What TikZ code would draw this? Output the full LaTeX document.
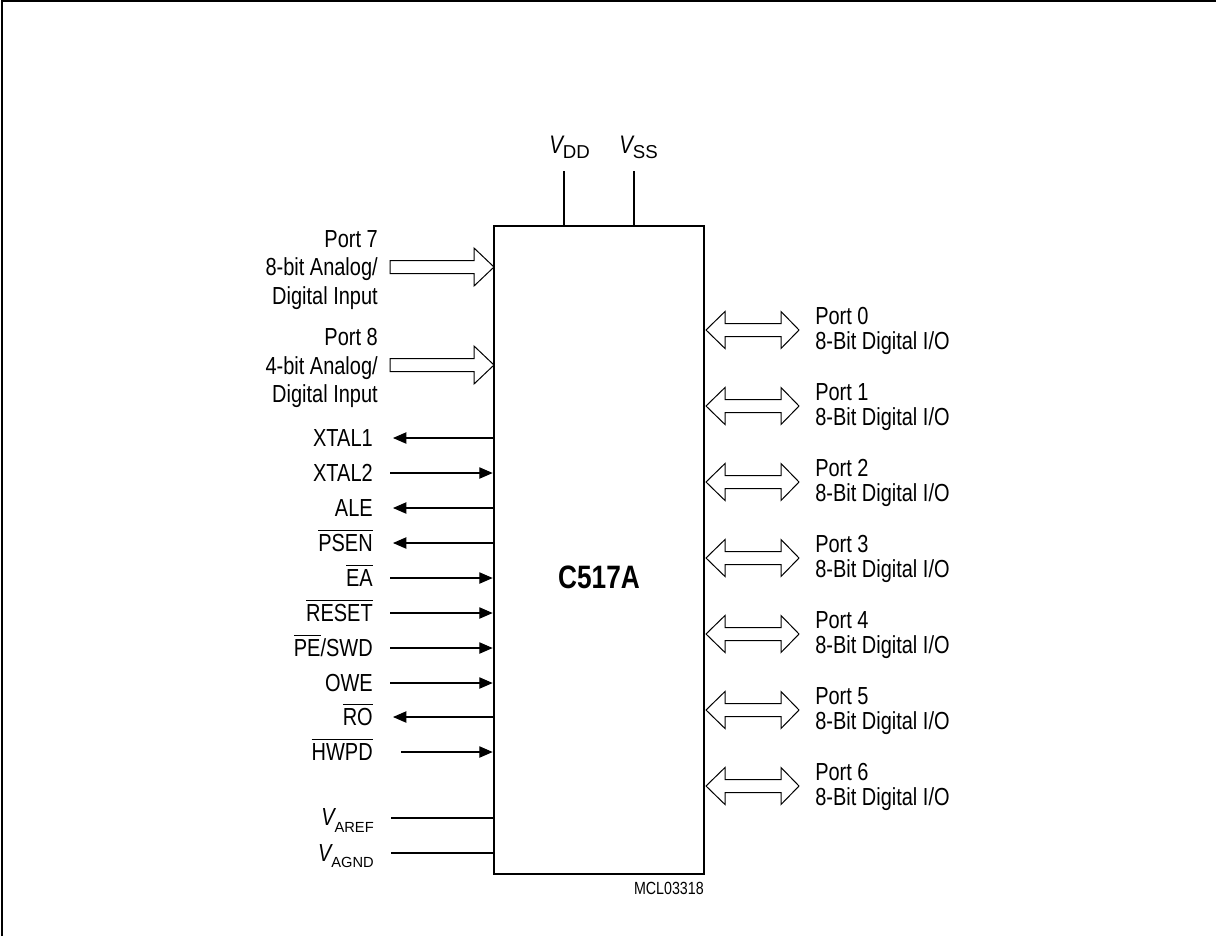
\documentclass[tikz,border=0pt]{standalone}
\usepackage{fontspec}
\setmainfont{Liberation Sans}[FakeStretch=0.81]
\newfontfamily\subsf{Liberation Sans}
\usetikzlibrary{arrows.meta}
\newcommand\ovl[1]{\begingroup\setbox0\hbox{#1}\rlap{\rule[0.84em]{\wd0}{0.7pt}}\box0\endgroup}
\newcommand\lblfont{\fontsize{18.5}{21}\selectfont}
% #1 size of V, #2 size of subscript, #3 subscript, #4 drop
\newcommand\vlabel[4]{{\fontsize{#1}{#1}\selectfont\itshape V}\raisebox{-#4}{\subsf\fontsize{#2}{#2}\selectfont #3}}
\begin{document}
\begin{tikzpicture}[x=0.75pt,y=-0.75pt,
  lbl/.style={font=\lblfont, inner sep=0pt, anchor=base east},
  rlbl/.style={font=\lblfont, inner sep=0pt, anchor=base west},
  sig/.style={line width=0.8pt},
  tipped/.style={-{Triangle[length=10pt,width=8.5pt]}},
  bus/.style={line width=0.75pt, fill=white, line join=miter}]
\useasboundingbox (0,0) rectangle (1216,936);
\draw[line width=2pt] (2,936) -- (2,1) -- (1216,1);

% chip
\node[draw, line width=2pt, minimum width=157.5pt, minimum height=486pt, inner sep=0pt] (chip) at (599,550) {};
\node[font=\fontsize{24.3}{24}\bfseries\selectfont, inner sep=0pt] (title) at (599,577) {C517A};
\node[anchor=base east, inner sep=0pt, font=\fontsize{13.2}{13}\selectfont] (mcl) at (704,894) {MCL03318};

% supply
\coordinate (vddpin) at (564,171);
\coordinate (vsspin) at (634,171);
\draw[sig] (vddpin) -- (vddpin |- chip.north);
\draw[sig] (vsspin) -- (vsspin |- chip.north);
\node[anchor=base west, inner sep=0pt] (vdd) at (549,153) {\vlabel{19}{14}{DD}{3.75pt}};
\node[anchor=base west, inner sep=0pt] (vss) at (619,153) {\vlabel{19}{14}{SS}{3.75pt}};

% port 7 / 8 input buses
\foreach \y in {267,365} {
  \draw[bus] (390,\y-6.5) -- (474,\y-6.5) -- (474,\y-19) -- (494,\y) -- (474,\y+19) -- (474,\y+6.5) -- (390,\y+6.5) -- cycle;
}
\node[lbl] (p7a) at (378,247) {Port 7};
\node[lbl] (p7b) at (378,275) {8-bit Analog/};
\node[lbl] (p7c) at (378,304) {Digital Input};
\node[lbl] (p8a) at (378,345) {Port 8};
\node[lbl] (p8b) at (378,374) {4-bit Analog/};
\node[lbl] (p8c) at (378,402) {Digital Input};

% outputs (arrow to the left)
\foreach \y/\txt/\nm in {438/XTAL1/xtala, 508/ALE/ale, 543/{\ovl{PSEN}}/psen, 717/{\ovl{RO}}/ro} {
  \coordinate (\nm) at (393,\y);
  \draw[sig,tipped] (\nm -| chip.west) -- (\nm);
  \node[lbl] (\nm lbl) at (373,\y+8.5) {\txt};
}
% inputs (arrow to the chip)
\foreach \y/\txt/\nm/\xs in {473/XTAL2/xtalb/390, 578/{\ovl{EA}}/ea/390, 613/{\ovl{RESET}}/reset/390, 648/{\ovl{PE}/SWD}/pe/390, 683/OWE/owe/390, 752/{\ovl{HWPD}}/hwpd/401} {
  \coordinate (\nm) at (\xs,\y);
  \draw[sig,tipped] (\nm) -- (\nm -| chip.west);
  \node[lbl] (\nm lbl) at (373,\y+8.5) {\txt};
}
% analog reference
\coordinate (aref) at (391,818);
\coordinate (agnd) at (391,853);
\draw[sig] (aref) -- (aref -| chip.west);
\draw[sig] (agnd) -- (agnd -| chip.west);
\node[anchor=base east, inner sep=0pt] (areflbl) at (374,825) {\vlabel{18.5}{11}{AREF}{5.25pt}};
\node[anchor=base east, inner sep=0pt] (agndlbl) at (374,861) {\vlabel{18.5}{11}{AGND}{4.5pt}};

% ports 0..6 bidirectional buses
\foreach \n/\y in {0/330,1/406,2/482,3/558,4/634,5/710,6/786} {
  \draw[bus] (706,\y) -- (725,\y-18.5) -- (725,\y-6.5) -- (781,\y-6.5) -- (781,\y-18.5) -- (799,\y) -- (781,\y+18.5) -- (781,\y+6.5) -- (725,\y+6.5) -- (725,\y+18.5) -- cycle;
  \node[rlbl] (port\n) at (815,\y-6) {Port \n};
  \node[rlbl] (io\n) at (815,\y+19) {8-Bit Digital I/O};
}
\end{tikzpicture}
\end{document}
